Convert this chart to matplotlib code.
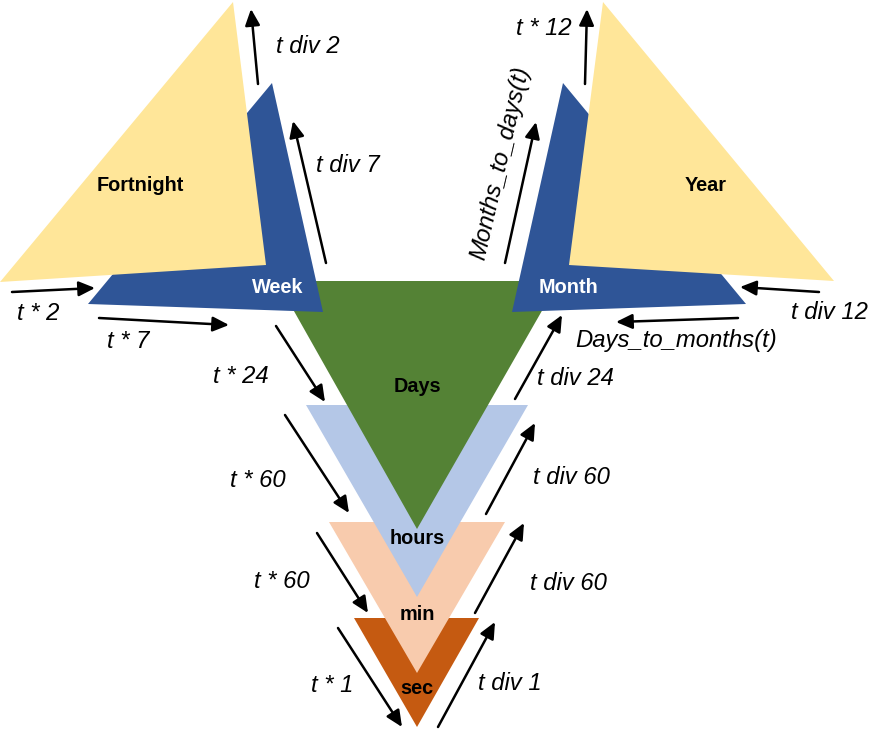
import matplotlib
matplotlib.use('Agg')
import matplotlib.pyplot as plt
from matplotlib.patches import Polygon, FancyArrowPatch

W, H = 882, 737

# shapes: name, colour, vertices (pixel coords, y down); drawn in this order
shape_names = ['sec', 'min', 'hours', 'Days', 'Week', 'Month', 'Fortnight', 'Year']
shape_colors = ['#C55A11', '#F8CBAD', '#B4C7E7', '#548235',
                '#2F5597', '#2F5597', '#FFE699', '#FFE699']
shape_verts = [
    [(354, 618), (479, 618), (417, 727)],
    [(329, 522), (505, 522), (417, 673)],
    [(306, 405), (528, 405), (417, 597)],
    [(277, 281), (559, 281), (417, 529)],
    [(272, 83), (88, 304), (323, 312)],
    [(563, 83), (512, 312), (746, 304)],
    [(233, 2), (0, 282), (266, 265)],
    [(603, 2), (569, 265), (834, 281)],
]

# unit labels inside the shapes
unit_text = ['sec', 'min', 'hours', 'Days', 'Week', 'Month', 'Fortnight', 'Year']
unit_pos = [(417, 688), (417, 614), (417, 539), (417, 386),
            (278, 287), (568, 287), (140, 185), (706, 185)]
unit_color = ['black', 'black', 'black', 'black', 'white', 'white', 'black', 'black']

# conversion arrows: (tail, head) and their labels
arrow_lines = [
    ((258, 84), (251, 9)),
    ((326, 263), (293, 121)),
    ((12, 292), (95, 288)),
    ((99, 318), (229, 325)),
    ((276, 326), (325, 402)),
    ((285, 415), (349, 513)),
    ((317, 533), (368, 613)),
    ((338, 628), (402, 727)),
    ((438, 727), (495, 622)),
    ((475, 613), (524, 523)),
    ((486, 514), (535, 423)),
    ((515, 399), (562, 315)),
    ((505, 263), (536, 122)),
    ((585, 84), (587, 9)),
    ((819, 292), (740, 287)),
    ((738, 318), (616, 322)),
]
arrow_labels = ['t div 2', 't div 7', 't * 2', 't * 7', 't * 24', 't * 60', 't * 60', 't * 1',
                't div 1', 't div 60', 't div 60', 't div 24', 'Months_to_days(t)', 't * 12',
                't div 12', 'Days_to_months(t)']
label_pos = [(308, 46), (348, 165), (38, 313), (128, 341), (241, 376), (258, 480),
             (282, 582), (332, 685), (510, 683), (568, 583), (571, 477), (575, 378),
             (500, 163), (544, 28), (829, 312), (676, 340)]
label_rot = [0, 0, 0, 0, 0, 0, 0, 0, 0, 0, 0, 0, 77, 0, 0, 0]

fig = plt.figure(figsize=(W / 100, H / 100), dpi=100)
ax = fig.add_axes([0, 0, 1, 1])
ax.set_xlim(0, W)
ax.set_ylim(H, 0)
ax.axis('off')

for name, col, verts in zip(shape_names, shape_colors, shape_verts):
    ax.add_patch(Polygon(verts, closed=True, facecolor=col, edgecolor='none'))

for txt, (x, y), c in zip(unit_text, unit_pos, unit_color):
    ax.text(x, y, txt, ha='center', va='center', color=c, fontsize=14.3,
            fontweight='bold', family='Liberation Sans')

for (tail, head) in arrow_lines:
    ax.add_patch(FancyArrowPatch(tail, head, arrowstyle='-|>,head_length=0.7,head_width=0.32',
                                 mutation_scale=14, lw=1.8, color='black',
                                 shrinkA=0, shrinkB=0))

for txt, (x, y), rot in zip(arrow_labels, label_pos, label_rot):
    ax.text(x, y, txt, ha='center', va='center', fontsize=17.2, style='italic',
            rotation=rot, rotation_mode='anchor', family='Liberation Sans')

fig.savefig('out.png', dpi=100)
